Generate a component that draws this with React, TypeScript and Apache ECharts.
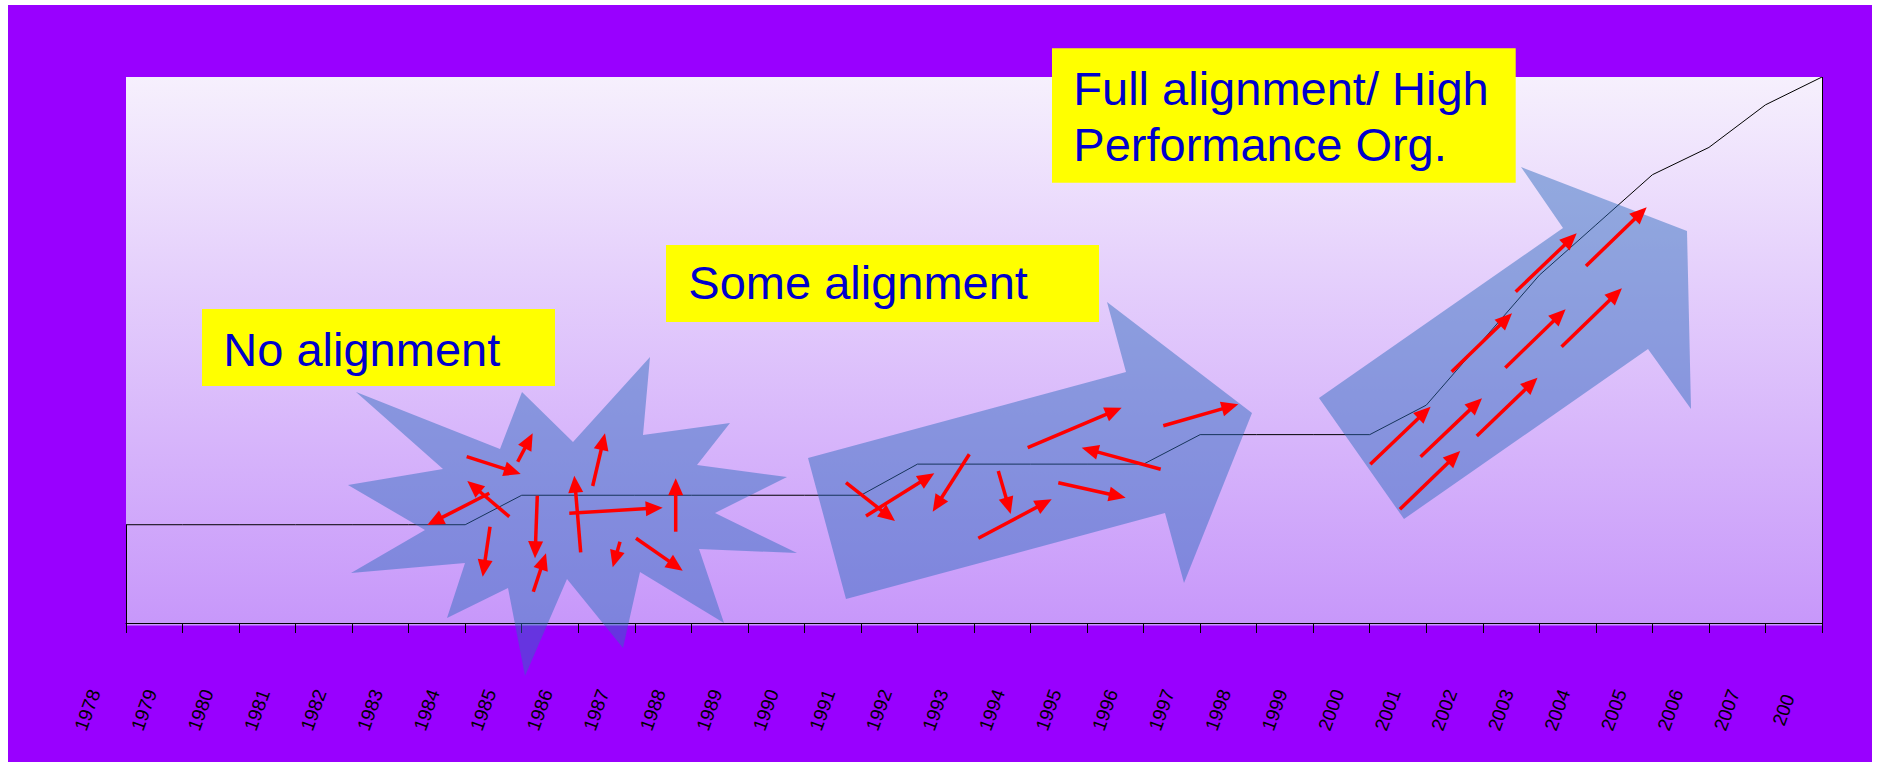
import React, { useEffect, useRef } from "react";
import * as echarts from "echarts";

// ---- data ----
const years = [
  "1978", "1979", "1980", "1981", "1982", "1983", "1984", "1985", "1986", "1987",
  "1988", "1989", "1990", "1991", "1992", "1993", "1994", "1995", "1996", "1997",
  "1998", "1999", "2000", "2001", "2002", "2003", "2004", "2005", "2006", "2007", "200",
];
const performance = [
  18, 18, 18, 18, 18, 18, 18, 23.4, 23.4, 23.4,
  23.4, 23.4, 23.4, 23.4, 29.1, 29.1, 29.1, 29.1, 29.1, 34.5,
  34.5, 34.5, 34.5, 39.9, 51.8, 63.7, 72.9, 82.1, 87.1, 94.9, 100,
];
const stageLabels = ["No alignment", "Some alignment", "Full alignment/ High", "Performance Org."];

// ---- decoration geometry (pixels) ----
const starPts = [
  [348, 485], [443, 469], [356, 392], [500, 449], [522, 392], [573, 442], [650, 357], [643, 435],
  [730, 423], [697, 465], [787, 477], [715, 513], [797, 553], [699, 549], [724, 623], [640, 572],
  [623, 648], [567, 579], [525, 676], [508, 588], [447, 618], [465, 563], [351, 573], [425, 530],
];
const arrow1Pts = [[808, 458], [1126, 372], [1107, 302], [1252, 413], [1184, 583], [1165, 513], [846, 599]];
const arrow2Pts = [[1319, 398], [1563, 228], [1521, 167], [1687, 231], [1691, 409], [1648, 349], [1404, 519]];
const redArrows = [
  // star
  [466.7, 456.7, 520.7, 474], [517.7, 461.7, 532.7, 433.3], [509.3, 516.7, 467.3, 481],
  [489.3, 493.3, 427.3, 525], [490, 526.7, 482.7, 576.7], [537.3, 495.7, 535, 558.3],
  [533.3, 591.7, 546, 553.3], [580.7, 552.3, 574.3, 475.7], [592.7, 486, 605, 433.3],
  [569.3, 513.3, 662.7, 507.7], [675.7, 531.7, 675.7, 478.3], [620, 541.7, 612.7, 567.3],
  [636, 538.3, 682.7, 570.7],
  // arrow 1
  [846, 482.7, 895, 521], [866, 516, 934.3, 473.3], [969.3, 454.3, 932.7, 511.7],
  [998.3, 471, 1010.7, 514], [978.3, 538.3, 1051.7, 499.3], [1027.7, 447.7, 1121.7, 407.7],
  [1160.7, 469.3, 1081.7, 447.7], [1058.3, 482.7, 1125.7, 497.7], [1163.3, 425.7, 1238.3, 404.3],
  // arrow 2
  [1370.3, 464.3, 1430.6, 406.7], [1420.6, 456.7, 1482, 398.3], [1399.9, 509.3, 1460.2, 451],
  [1476.8, 436, 1537.5, 377.7], [1451.7, 371.7, 1512, 313.3], [1505.3, 367.7, 1565.6, 309.3],
  [1561.6, 346.7, 1621.9, 288.3], [1515.7, 291.7, 1576.7, 233.3], [1586, 266, 1646.7, 207.3],
];

const FONT = "'Liberation Sans', Arial, Helvetica, sans-serif";
const BLUE_FILL = "rgba(45,108,190,0.48)";

function redArrowElements(): any[] {
  const out: any[] = [];
  const L = 17;
  const W = 7.5;
  redArrows.forEach(([tx, ty, hx, hy]) => {
    const dx = hx - tx;
    const dy = hy - ty;
    const len = Math.sqrt(dx * dx + dy * dy);
    const ux = dx / len;
    const uy = dy / len;
    const px = -uy;
    const py = ux;
    const bx = hx - L * ux;
    const by = hy - L * uy;
    out.push({
      type: "line",
      z: 20,
      shape: { x1: tx, y1: ty, x2: bx + 2 * ux, y2: by + 2 * uy },
      style: { stroke: "#FF0000", lineWidth: 3.5 },
      silent: true,
    });
    out.push({
      type: "polygon",
      z: 21,
      shape: { points: [[hx, hy], [bx + W * px, by + W * py], [bx - W * px, by - W * py]] },
      style: { fill: "#FF0000" },
      silent: true,
    });
  });
  return out;
}

function textBox(x: number, y: number, w: number, h: number, lines: { t: string; x: number; base: number }[]): any[] {
  const els: any[] = [
    { type: "rect", z: 30, shape: { x, y, width: w, height: h }, style: { fill: "#FFFF00" }, silent: true },
  ];
  lines.forEach((ln) => {
    els.push({
      type: "text",
      z: 31,
      x: ln.x,
      y: ln.base - 16.3,
      style: {
        text: ln.t,
        font: `47px ${FONT}`,
        fill: "#0000CC",
        align: "left",
        verticalAlign: "middle",
      },
      silent: true,
    });
  });
  return els;
}

export default function App() {
  const ref = useRef<HTMLDivElement>(null);
  useEffect(() => {
    if (!ref.current) return;
    const chart = echarts.init(ref.current, undefined, { renderer: "svg" });
    const option: any = {
      animation: false,
      backgroundColor: "#FFFFFF",
      grid: [
        { left: 126, top: 77, width: 1696, height: 546, containLabel: false },
        { left: 59.2, top: 77, width: 1752.5, height: 546, containLabel: false },
      ],
      xAxis: [
        {
          type: "category",
          gridIndex: 0,
          data: years,
          boundaryGap: false,
          axisLine: { show: true, lineStyle: { color: "#000000", width: 1 } },
          axisTick: { show: true, inside: false, length: 10, interval: 0, lineStyle: { color: "#000000", width: 1 } },
          axisLabel: { show: false },
          splitLine: { show: false },
          z: 5,
        },
        {
          type: "category",
          gridIndex: 1,
          data: years,
          boundaryGap: true,
          axisLine: { show: false },
          axisTick: { show: false },
          splitLine: { show: false },
          axisLabel: {
            show: true,
            interval: 0,
            rotate: 70,
            align: "center",
            verticalAlign: "middle",
            margin: 87,
            fontSize: 19,
            fontFamily: FONT,
            color: "#000000",
          },
        },
      ],
      yAxis: [
        { type: "value", gridIndex: 0, min: 0, max: 100, show: false },
        { type: "value", gridIndex: 1, min: 0, max: 100, show: false },
      ],
      series: [
        {
          type: "line",
          xAxisIndex: 0,
          yAxisIndex: 0,
          data: performance,
          symbol: "none",
          lineStyle: { color: "#000000", width: 1 },
          z: 3,
          markLine: {
            silent: true,
            symbol: ["none", "none"],
            label: { show: false },
            lineStyle: { color: "#000000", width: 1, type: "solid" },
            data: [
              [{ coord: [0, 0] }, { coord: [0, performance[0]] }],
              [{ coord: [years.length - 1, 0] }, { coord: [years.length - 1, 100] }],
            ],
          },
        },
      ],
      graphic: [
        {
          type: "rect",
          z: -20,
          shape: { x: 8, y: 5, width: 1864, height: 757 },
          style: { fill: "#9900FF" },
          silent: true,
        },
        {
          type: "rect",
          z: -10,
          shape: { x: 126, y: 77, width: 1696, height: 548.5 },
          style: {
            fill: new echarts.graphic.LinearGradient(0, 0, 0, 1, [
              { offset: 0, color: "#F6F0FD" },
              { offset: 1, color: "#C797FA" },
            ]),
          },
          silent: true,
        },
        { type: "polygon", z: 10, shape: { points: starPts }, style: { fill: BLUE_FILL }, silent: true },
        { type: "polygon", z: 10, shape: { points: arrow1Pts }, style: { fill: BLUE_FILL }, silent: true },
        { type: "polygon", z: 10, shape: { points: arrow2Pts }, style: { fill: BLUE_FILL }, silent: true },
        ...redArrowElements(),
        ...textBox(202, 309, 353, 77, [{ t: stageLabels[0], x: 223.3, base: 365.7 }]),
        ...textBox(666, 245, 433, 77, [{ t: stageLabels[1], x: 688.3, base: 299 }]),
        ...textBox(1052, 48.3, 463.7, 134.4, [
          { t: stageLabels[2], x: 1073.3, base: 105 },
          { t: stageLabels[3], x: 1073.3, base: 161 },
        ]),
      ],
    };
    chart.setOption(option);
    return () => chart.dispose();
  }, []);
  return (
    <div
      ref={ref}
      style={{ position: "absolute", left: 0, top: 0, width: 1880, height: 767 }}
    />
  );
}
